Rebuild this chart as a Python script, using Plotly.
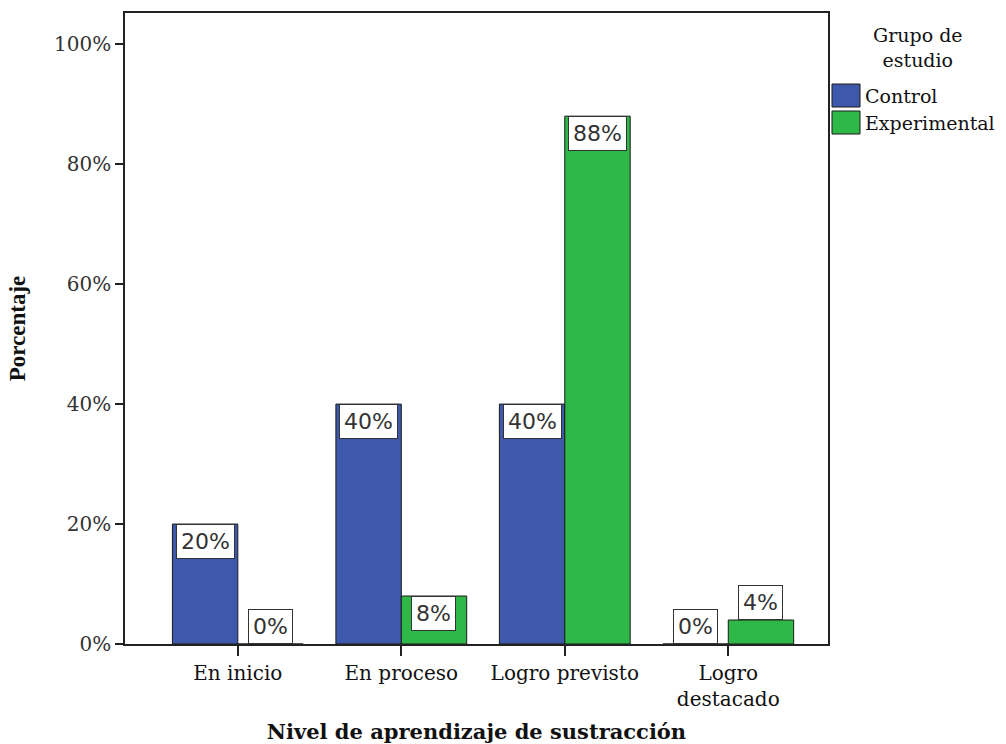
import plotly.graph_objects as go

# Nivel de aprendizaje por grupo (porcentaje de estudiantes)
categorias = ["En inicio", "En proceso", "Logro previsto", "Logro<br>destacado"]
control = [20, 40, 40, 0]
experimental = [0, 8, 88, 4]
grupos = ["Control", "Experimental"]
colores = ["#3E58AC", "#2EB848"]
ticks_y = [0, 20, 40, 60, 80, 100]

Y_MAX = 105.2
X_RANGE = [-0.69, 3.61]
W, H = 1006, 744
M = dict(l=125, r=178, t=13, b=100)
plot_h = H - M["t"] - M["b"]
px_per_unit = plot_h / Y_MAX
BOX_H = 36  # approximate label box height in px

serif = "DejaVu Serif"
label_font = dict(family="DejaVu Sans", size=22, color="#333333")

fig = go.Figure()
for nombre, valores, color in zip(grupos, [control, experimental], colores):
    fig.add_trace(go.Bar(
        name=nombre,
        x=list(range(len(categorias))),
        y=valores,
        marker=dict(color=color, line=dict(color="#1a1a1a", width=1)),
        showlegend=False,
    ))

# value labels: inside the top of the bar when it fits, otherwise above it
offsets = [-0.2, 0.2]
for valores, off in zip([control, experimental], offsets):
    for i, v in enumerate(valores):
        inside = v * px_per_unit > BOX_H + 4
        fig.add_annotation(
            x=i + off, y=v, xref="x", yref="y",
            text=f"{v}%", showarrow=False,
            yanchor="top" if inside else "bottom",
            xanchor="center",
            font=label_font,
            bgcolor="white", bordercolor="#333333", borderwidth=1, borderpad=4,
        )

# legend block
plot_w = W - M["l"] - M["r"]
def px_x(p):
    return (p - M["l"]) / plot_w
def px_y(p):
    return (H - M["b"] - p) / plot_h

fig.add_annotation(
    x=px_x(918), y=px_y(48), xref="paper", yref="paper",
    text="Grupo de<br>estudio", showarrow=False, align="center",
    xanchor="center", yanchor="middle",
    font=dict(family=serif, size=19, color="#111111"),
)
for k, (nombre, color) in enumerate(zip(grupos, colores)):
    top = 84 + k * 27
    fig.add_shape(
        type="rect", xref="paper", yref="paper",
        x0=px_x(832), x1=px_x(860), y0=px_y(top), y1=px_y(top + 23),
        fillcolor=color, line=dict(color="#1a1a1a", width=1),
    )
    fig.add_annotation(
        x=px_x(863), y=px_y(top + 12), xref="paper", yref="paper",
        text=nombre, showarrow=False, xanchor="left", yanchor="middle",
        font=dict(family=serif, size=19, color="#111111"),
    )

fig.update_layout(
    width=W, height=H,
    margin=M,
    paper_bgcolor="white", plot_bgcolor="white",
    barmode="group", bargap=0.2, bargroupgap=0,
    showlegend=False,
    xaxis=dict(
        range=X_RANGE,
        tickmode="array",
        tickvals=list(range(len(categorias))),
        ticktext=categorias,
        ticks="outside", ticklen=10, tickcolor="#222222", tickwidth=1.5,
        showline=True, linecolor="#222222", linewidth=1.5, mirror=True,
        showgrid=False, zeroline=False, automargin=False,
        tickfont=dict(family=serif, size=20, color="#111111"),
        title=dict(text="<b>Nivel de aprendizaje de sustracción</b>",
                   font=dict(family=serif, size=21, color="#111111"),
                   standoff=18),
    ),
    yaxis=dict(
        range=[0, Y_MAX],
        tickmode="array", tickvals=ticks_y,
        ticktext=[f"{t}%" for t in ticks_y],
        ticks="outside", ticklen=8, tickcolor="#222222", tickwidth=1.5,
        showline=True, linecolor="#222222", linewidth=1.5, mirror=True,
        showgrid=False, zeroline=False, automargin=False,
        tickfont=dict(family=serif, size=20, color="#333333"),
        title=dict(text="<b>Porcentaje</b>",
                   font=dict(family="Liberation Serif", size=23, color="#111111"),
                   standoff=22),
    ),
)

fig.write_html("out.html")
